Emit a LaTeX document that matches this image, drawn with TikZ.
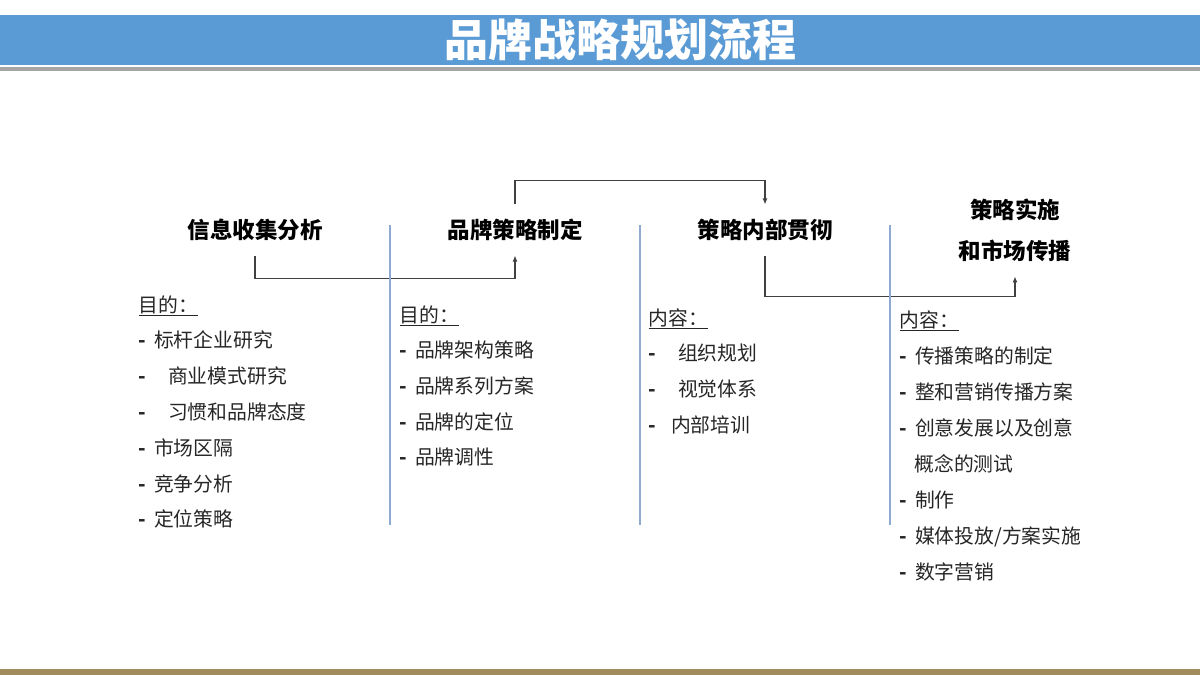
\documentclass[tikz,border=0pt]{standalone}
\usepackage{fontspec}
\setmainfont{Noto Sans CJK SC}
\usepackage{tikz}
\usetikzlibrary{arrows.meta,positioning}

\definecolor{barblue}{HTML}{5B9BD5}
\definecolor{rulegray}{HTML}{A6A6A6}
\definecolor{sepblue}{HTML}{8EAAD0}
\definecolor{linegray}{HTML}{404040}
\definecolor{bottomtan}{HTML}{A08C5C}
\definecolor{txt}{HTML}{262626}

\newcommand{\itm}[1][8pt]{\textbf{-}\hspace{#1}}

\begin{document}
\begin{tikzpicture}[x=1pt, y=-1pt, >={Latex[length=6pt,width=5pt]}, line width=1.1pt]
\tikzstyle{head}=[font=\fontsize{22.5}{41}\selectfont\bfseries, align=center,
                  inner xsep=2pt, inner ysep=13.2pt, text height=20.6pt, text depth=3pt]
\tikzstyle{item}=[font=\fontsize{19.8}{23}\selectfont, text=txt,
                  anchor=base west, inner sep=0pt]
\tikzstyle{link}=[->, draw=linegray, line width=1.1pt]

\useasboundingbox (0,0) rectangle (1200,675);

% bars
\fill[barblue] (0,15) rectangle (1200,65);
\fill[rulegray] (0,67) rectangle (1200,71);
\fill[bottomtan] (0,669) rectangle (1200,675);
\node [font=\fontsize{44}{48}\selectfont\bfseries, text=white] (title) at (620,40) {品牌战略规划流程};

% column heads
\node [head] (info) at (255,230) {信息收集分析};
\node [head] (brand) at (515,230) {品牌策略制定};
\node [head] (intern) at (765,230) {策略内部贯彻};
\node [head, text height=, text depth=, inner ysep=14pt] (impl) at (1015,230.5) {策略实施\\和市场传播};

\path[link] (info.south) -- ++(0,23) -| (brand.south);
\path[link] (brand.north) -- ++(0,-24) -| (intern.north);
\path[link] (intern.south) -- ++(0,41) -| (impl.south);

% separators
\foreach \x in {390,640,890}
  \draw[sepblue, line width=1.5pt] (\x,225) -- (\x,525);

% lists
\foreach \t [count=\i from 0] in {\underline{目的：}, \itm 标杆企业研究,
    \itm[22pt]商业模式研究, \itm[22pt]习惯和品牌态度, \itm 市场区隔,
    \itm 竞争分析, \itm 定位策略}
  \node [item] (a\i) at (138,312+35.8*\i) {\t};

\foreach \t [count=\i from 0] in {\underline{目的：}, \itm 品牌架构策略,
    \itm 品牌系列方案, \itm 品牌的定位, \itm 品牌调性}
  \node [item] (b\i) at (399,322+35.7*\i) {\t};

\foreach \t [count=\i from 0] in {\underline{内容：}, \itm[22pt]组织规划,
    \itm[22pt]视觉体系, \itm[15pt]内部培训}
  \node [item] (c\i) at (648,325+35.7*\i) {\t};

\foreach \t [count=\i from 0] in {\underline{内容：}, \itm 传播策略的制定,
    \itm 整和营销传播方案, \itm 创意发展以及创意,
    \phantom{-}\hspace{8pt}概念的测试, \itm 制作,
    \itm 媒体投放/方案实施, \itm 数字营销}
  \node [item] (d\i) at (899,327+36*\i) {\t};
\end{tikzpicture}
\end{document}
